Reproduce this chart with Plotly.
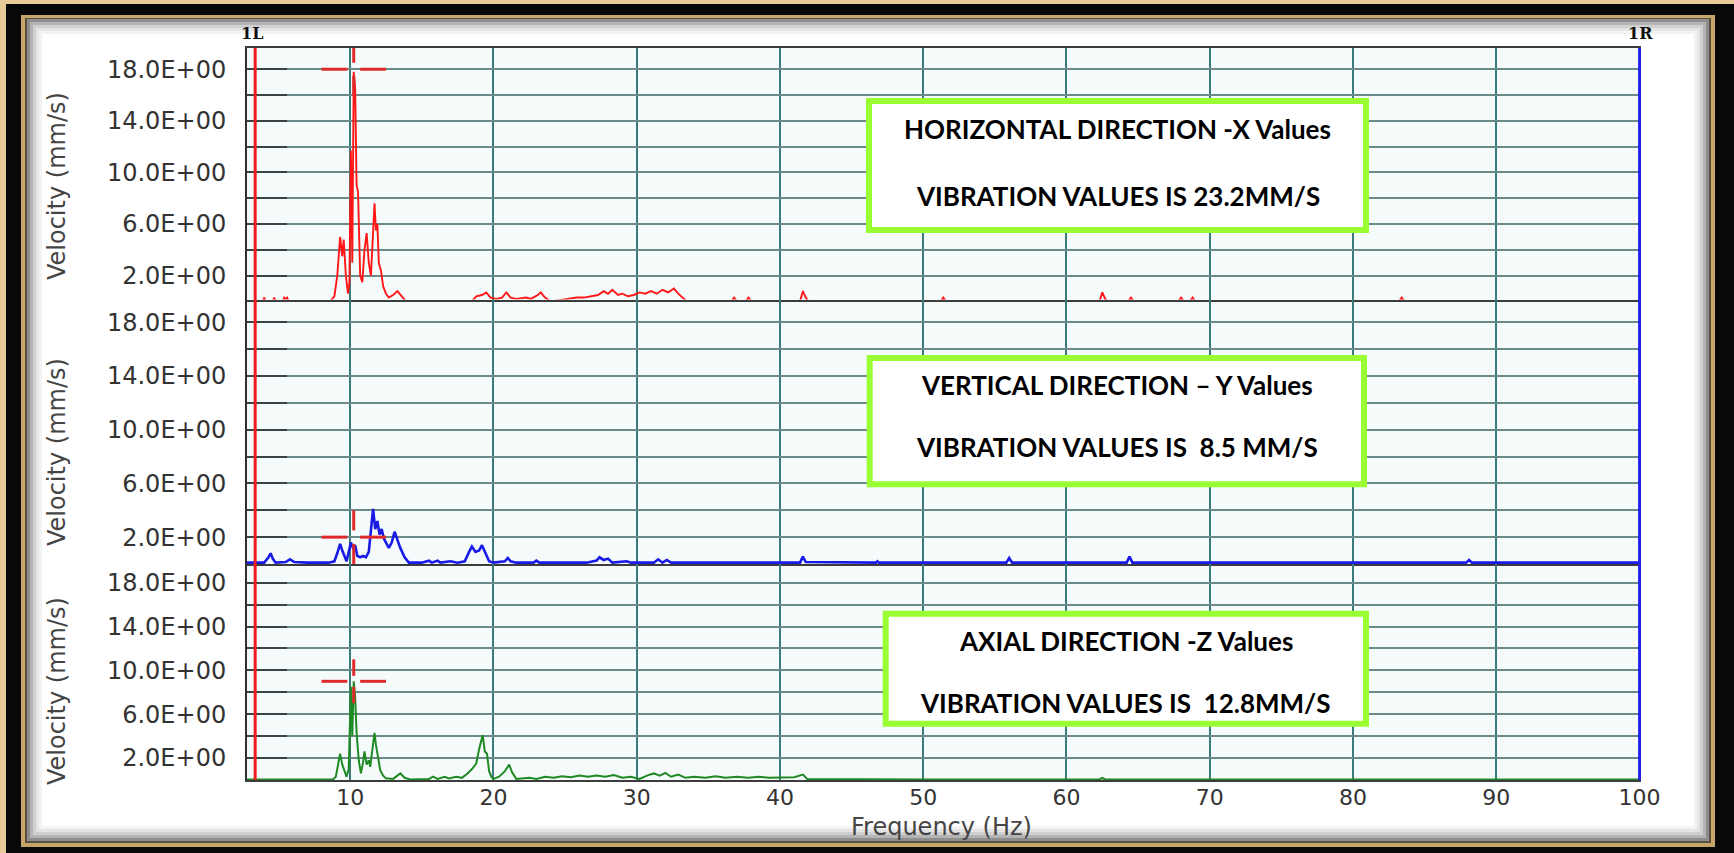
import plotly.graph_objects as go

# ---------------- DATA ----------------
# Horizontal (X) spectrum, panel 1 (red)
red_hz = [2.8, 3.9, 4.0, 4.1, 4.6, 4.7, 4.8, 5.3, 5.4, 5.5, 5.6, 5.7,
          8.6, 8.9, 9.1, 9.3, 9.45, 9.55, 9.7, 9.85, 9.95, 10.05, 10.15, 10.25,
          10.35, 10.45, 10.55, 10.7, 10.85, 11.0, 11.15, 11.3, 11.45, 11.55, 11.7,
          11.8, 11.9, 12.0, 12.15, 12.3, 12.5, 12.7, 13.0, 13.3, 13.6, 13.9,
          18.5, 18.8, 19.2, 19.5, 19.8, 20.2, 20.6, 20.9, 21.2, 21.6, 22.3, 22.6,
          23.1, 23.3, 23.6, 24.0, 25.2, 25.8, 26.3, 26.8, 27.3, 27.7, 28.0, 28.3,
          28.7, 29.0, 29.4, 29.8, 30.2, 30.6, 31.0, 31.4, 31.8, 32.2, 32.6, 32.9,
          33.2, 33.5, 36.6, 36.8, 37.0, 37.6, 37.8, 38.0, 41.4, 41.6, 41.8, 42.0,
          51.2, 51.4, 51.6, 62.3, 62.5, 62.7, 62.9, 64.3, 64.5, 64.7, 67.8, 68.0,
          68.2, 68.6, 68.8, 69.0, 83.2, 83.4, 83.6, 100.0]
red_vel = [0.0, 0.0, 0.3, 0.0, 0.0, 0.3, 0.0, 0.0, 0.3, 0.2, 0.3, 0.0,
           0.0, 0.4, 2.0, 5.0, 3.5, 4.8, 2.0, 0.6, 1.5, 11.7, 3.0, 17.8,
           16.5, 9.0, 8.5, 2.0, 1.5, 4.0, 5.3, 3.0, 2.0, 4.0, 7.6,
           5.5, 6.0, 3.0, 2.4, 1.2, 0.6, 0.3, 0.5, 0.8, 0.4, 0.0,
           0.0, 0.4, 0.5, 0.7, 0.3, 0.2, 0.3, 0.7, 0.3, 0.2, 0.3, 0.2,
           0.5, 0.7, 0.3, 0.0, 0.2, 0.3, 0.3, 0.4, 0.5, 0.8, 0.6, 0.9,
           0.5, 0.6, 0.4, 0.5, 0.7, 0.6, 0.8, 0.6, 0.9, 0.7, 1.0, 0.6,
           0.3, 0.0, 0.0, 0.3, 0.0, 0.0, 0.3, 0.0, 0.0, 0.8, 0.3, 0.0,
           0.0, 0.3, 0.0, 0.0, 0.7, 0.2, 0.0, 0.0, 0.3, 0.0, 0.0, 0.3,
           0.0, 0.0, 0.3, 0.0, 0.0, 0.3, 0.0, 0.0]

# Vertical (Y) spectrum, panel 2 (blue)
blue_hz = [2.8, 4.0, 4.3, 4.45, 4.6, 4.8, 5.5, 5.8, 6.1, 7.0, 8.5, 8.9, 9.1, 9.3,
           9.45, 9.6, 9.75, 9.9, 10.05, 10.2, 10.35, 10.5, 10.7, 10.9, 11.1, 11.3,
           11.45, 11.6, 11.75, 11.9, 12.05, 12.2, 12.35, 12.5, 12.7, 12.9, 13.1,
           13.3, 13.5, 13.8, 14.1, 15.0, 15.5, 15.7, 16.1, 16.3, 17.0, 17.5, 18.0,
           18.3, 18.5, 18.75, 19.0, 19.2, 19.4, 19.7, 20.0, 20.8, 21.0, 21.2, 21.6,
           22.8, 23.0, 23.2, 26.5, 27.2, 27.4, 27.7, 28.0, 28.3, 29.3, 29.6, 31.2,
           31.5, 31.8, 32.1, 32.4, 41.4, 41.6, 41.8, 46.7, 46.8, 46.9, 55.8, 56.0,
           56.2, 64.2, 64.4, 64.6, 87.9, 88.1, 88.3, 100.0]
blue_vel = [0.1, 0.1, 0.5, 0.8, 0.4, 0.1, 0.15, 0.35, 0.15, 0.1, 0.1, 0.2, 0.8, 1.5,
            1.0, 0.6, 0.2, 0.9, 1.6, 1.2, 1.4, 0.6, 0.5, 0.6, 0.5, 0.9,
            2.5, 4.1, 2.6, 3.2, 2.2, 2.6, 1.9, 1.6, 1.2, 1.6, 2.4,
            1.8, 1.2, 0.5, 0.1, 0.1, 0.25, 0.1, 0.25, 0.1, 0.2, 0.1, 0.2,
            0.9, 1.3, 0.9, 1.0, 1.4, 0.9, 0.2, 0.1, 0.2, 0.45, 0.2, 0.1,
            0.1, 0.25, 0.1, 0.1, 0.25, 0.5, 0.3, 0.4, 0.1, 0.2, 0.1, 0.1,
            0.35, 0.1, 0.3, 0.1, 0.1, 0.55, 0.15, 0.1, 0.2, 0.1, 0.1, 0.45,
            0.1, 0.1, 0.55, 0.1, 0.1, 0.3, 0.1, 0.1]

# Axial (Z) spectrum, panel 3 (green)
green_hz = [2.8, 8.8, 9.0, 9.15, 9.3, 9.45, 9.6, 9.75, 9.9, 10.05, 10.15, 10.25,
            10.35, 10.45, 10.6, 10.75, 10.9, 11.0, 11.15, 11.3, 11.4, 11.55, 11.7,
            11.8, 11.9, 12.1, 12.3, 12.5, 13.0, 13.5, 13.8, 14.2, 15.5, 15.8, 16.1,
            16.6, 16.9, 17.4, 17.8, 18.2, 18.5, 18.8, 19.0, 19.25, 19.4, 19.55, 19.7,
            19.85, 20.0, 20.4, 20.8, 21.1, 21.3, 21.6, 22.5, 23.0, 23.6, 24.2, 24.8,
            25.4, 26.0, 26.6, 27.2, 27.8, 28.4, 29.0, 29.6, 30.2, 30.8, 31.2, 31.6,
            32.0, 32.4, 32.9, 33.4, 34.0, 34.8, 35.5, 36.2, 37.0, 37.8, 38.5, 39.2,
            40.0, 41.0, 41.6, 41.9, 50.0, 62.3, 62.5, 62.7, 100.0]
green_vel = [0.05, 0.05, 0.3, 1.5, 2.4, 1.4, 0.8, 0.3, 1.0, 8.5, 4.0, 9.0,
             7.5, 4.3, 1.8, 0.6, 1.6, 2.6, 1.4, 1.8, 1.2, 2.8, 4.3,
             3.2, 2.4, 0.9, 0.4, 0.15, 0.1, 0.6, 0.2, 0.05, 0.1, 0.3, 0.1,
             0.3, 0.15, 0.3, 0.2, 0.6, 1.0, 1.5, 2.8, 4.1, 2.6, 2.4, 0.8,
             0.3, 0.1, 0.3, 0.8, 1.4, 0.7, 0.1, 0.2, 0.1, 0.3, 0.2, 0.35,
             0.25, 0.4, 0.3, 0.4, 0.3, 0.45, 0.2, 0.3, 0.1, 0.45, 0.6, 0.4,
             0.65, 0.3, 0.5, 0.2, 0.3, 0.2, 0.35, 0.2, 0.3, 0.2, 0.3, 0.2,
             0.2, 0.25, 0.5, 0.1, 0.05, 0.05, 0.2, 0.05, 0.05]

cursor_left_hz = 3.37
cursor_right_hz = 100.0
peak_cursor_hz = 10.25
peak_cursor_vel = [18.0, 2.0, 9.0]

x_tick_vals = [10, 20, 30, 40, 50, 60, 70, 80, 90, 100]
x_tick_text = ["10", "20", "30", "40", "50", "60", "70", "80", "90", "100"]
y_tick_vals = [2, 4, 6, 8, 10, 12, 14, 16, 18]
y_tick_text = ["2.0E+00", "", "6.0E+00", "", "10.0E+00", "", "14.0E+00", "", "18.0E+00"]

box_titles = ["HORIZONTAL DIRECTION -X Values",
              "VERTICAL DIRECTION \u2013 Y Values",
              "AXIAL DIRECTION -Z Values"]
box_values = ["VIBRATION VALUES IS 23.2MM/S",
              "VIBRATION VALUES IS  8.5 MM/S",
              "VIBRATION VALUES IS  12.8MM/S"]
y_title = "Velocity (mm/s)"
x_title = "Frequency (Hz)"

# ---------------- LAYOUT GEOMETRY ----------------
W, H = 1734, 853
L, R, T, B = 247, 93, 48, 73
PW = W - L - R
PH = H - T - B


def px(xp):
    return (xp - L) / PW


def py(yp):
    return (H - B - yp) / PH


doms = [[py(299.5), 1.0], [py(564), py(299.5)], [0.0, py(564)]]
yranges = [[0.15, 19.65], [0, 19.7], [0, 19.7]]
xrange_ = [2.8, 100.1]

series = [(red_hz, red_vel, "#ff1616", 1.9),
          (blue_hz, blue_vel, "#1a1ae6", 2.6),
          (green_hz, green_vel, "#1f8a24", 2.0)]

fig = go.Figure()
for i, (hx, hv, col, lw) in enumerate(series):
    sfx = "" if i == 0 else str(i + 1)
    fig.add_trace(go.Scatter(x=hx, y=hv, mode="lines", xaxis="x" + sfx, yaxis="y" + sfx,
                             line=dict(color=col, width=lw), showlegend=False,
                             hoverinfo="x+y"))
    c = peak_cursor_hz
    v = peak_cursor_vel[i]
    fig.add_trace(go.Scatter(
        x=[c - 2.25, c - 0.45, None, c + 0.45, c + 2.25, None, c, c, None, c, c],
        y=[v, v, None, v, v, None, v + 0.5, v + 2.0, None, v - 0.5, v - 2.0],
        mode="lines", xaxis="x" + sfx, yaxis="y" + sfx,
        line=dict(color="#e02a2a", width=3), showlegend=False, hoverinfo="skip"))

ytickfont = dict(family="DejaVu Sans", size=24, color="#333333")
xtickfont = dict(family="DejaVu Sans", size=22, color="#333333")
layout = dict(width=W, height=H, margin=dict(l=L, r=R, t=T, b=B),
              paper_bgcolor="#e8cb98", plot_bgcolor="#f5fbfb", showlegend=False)
for i in range(3):
    sfx = "" if i == 0 else str(i + 1)
    layout["xaxis" + sfx] = dict(
        domain=[0, 1], range=xrange_, anchor="y" + sfx, tickmode="array",
        tickvals=x_tick_vals, ticktext=x_tick_text, showticklabels=(i == 2),
        tickfont=xtickfont, ticks="", ticklabelstandoff=-3,
        showgrid=True, gridcolor="#3b7b7b", gridwidth=1.6, zeroline=False,
        showline=True, linecolor="#3c3c3c", linewidth=2, mirror=(i == 0),
        **({} if i == 0 else {"matches": "x"}))
    layout["yaxis" + sfx] = dict(
        domain=doms[i], range=yranges[i], anchor="x" + sfx, tickmode="array",
        tickvals=y_tick_vals, ticktext=y_tick_text, tickfont=ytickfont,
        ticks="inside", ticklen=40, tickwidth=2, tickcolor="#3a4444",
        ticklabelstandoff=14,
        showgrid=True, gridcolor="#6b8a8a", gridwidth=1.6, zeroline=False,
        showline=True, linecolor="#303030", linewidth=2)

shapes = []
# frame: black band, gold line, white card, inner shadow
shapes.append(dict(type="rect", xref="paper", yref="paper", layer="below",
                   x0=px(6), x1=px(1734), y0=py(853), y1=py(4),
                   fillcolor="#080808", line=dict(width=0)))
shapes.append(dict(type="rect", xref="paper", yref="paper", layer="below",
                   x0=px(21), x1=px(1715), y0=py(847), y1=py(15),
                   fillcolor="#c7a66c", line=dict(width=0)))
shapes.append(dict(type="rect", xref="paper", yref="paper", layer="below",
                   x0=px(25), x1=px(1711), y0=py(843), y1=py(18),
                   fillcolor="#5a5040", line=dict(width=0)))
shapes.append(dict(type="rect", xref="paper", yref="paper", layer="below",
                   x0=px(27), x1=px(1709), y0=py(841), y1=py(19),
                   fillcolor="#ffffff", line=dict(width=0)))
shadow_cols = ["#8e8e8e", "#b4b4b4", "#d0d0d0", "#e4e4e4", "#f3f3f3"]
for k, sc in enumerate(shadow_cols):
    ins = 27 + 1.5 + 3 * k
    shapes.append(dict(type="rect", xref="paper", yref="paper", layer="below",
                       x0=px(ins), x1=px(1736 - ins), y0=py(868 - ins), y1=py(ins - 8),
                       line=dict(color=sc, width=3), fillcolor="rgba(0,0,0,0)"))
# plot background restored over card
shapes.append(dict(type="rect", xref="paper", yref="paper", layer="below",
                   x0=0, x1=1, y0=0, y1=1, fillcolor="#f5fbfb", line=dict(width=0)))
# cursors
shapes.append(dict(type="line", xref="x", yref="paper", x0=cursor_left_hz, x1=cursor_left_hz,
                   y0=0, y1=1, line=dict(color="#ee1c1c", width=3), layer="above"))
shapes.append(dict(type="line", xref="x", yref="paper", x0=cursor_right_hz, x1=cursor_right_hz,
                   y0=0, y1=1, line=dict(color="#2222ee", width=3), layer="above"))
# text boxes
boxes = [(869, 1366, 101, 230), (869.7, 1364, 358, 484.3), (885.7, 1366, 613.7, 723.7)]
for (bx0, bx1, by0, by1) in boxes:
    shapes.append(dict(type="rect", xref="paper", yref="paper", layer="above",
                       x0=px(bx0), x1=px(bx1), y0=py(by1), y1=py(by0),
                       fillcolor="#ffffff", line=dict(color="#99ff33", width=6)))
layout["shapes"] = shapes

ann = []
box_font = dict(family="Lato", size=26, color="#000000", weight=700)
line1_y = [129, 385, 641]
line2_y = [196, 447, 703]
for k in range(3):
    cx = (boxes[k][0] + boxes[k][1]) / 2
    ann.append(dict(xref="paper", yref="paper", x=px(cx), y=py(line1_y[k]),
                    text=box_titles[k], showarrow=False, font=box_font,
                    xanchor="center", yanchor="middle"))
    ann.append(dict(xref="paper", yref="paper", x=px(cx), y=py(line2_y[k]),
                    text=box_values[k], showarrow=False, font=box_font,
                    xanchor="center", yanchor="middle"))
ytitle_y = [186, 452, 691]
for k in range(3):
    ann.append(dict(xref="paper", yref="paper", x=px(57), y=py(ytitle_y[k]),
                    text=y_title, textangle=-90, showarrow=False,
                    font=dict(family="DejaVu Sans", size=24, color="#444444"),
                    xanchor="center", yanchor="middle"))
ann.append(dict(xref="paper", yref="paper", x=px(941), y=py(827), text=x_title,
                showarrow=False, font=dict(family="DejaVu Sans", size=24, color="#444444"),
                xanchor="center", yanchor="middle"))
ann.append(dict(xref="paper", yref="paper", x=px(251.5), y=py(33), text="1L",
                showarrow=False, font=dict(family="DejaVu Serif", size=16, color="#111111", weight=700),
                xanchor="center", yanchor="middle"))
ann.append(dict(xref="paper", yref="paper", x=px(1640), y=py(33), text="1R",
                showarrow=False, font=dict(family="DejaVu Serif", size=16, color="#111111", weight=700),
                xanchor="center", yanchor="middle"))
layout["annotations"] = ann

fig.update_layout(**layout)
fig.write_html("out.html", config={"displayModeBar": False},
               post_script="document.body.style.margin='0';document.body.style.overflow='hidden';")
